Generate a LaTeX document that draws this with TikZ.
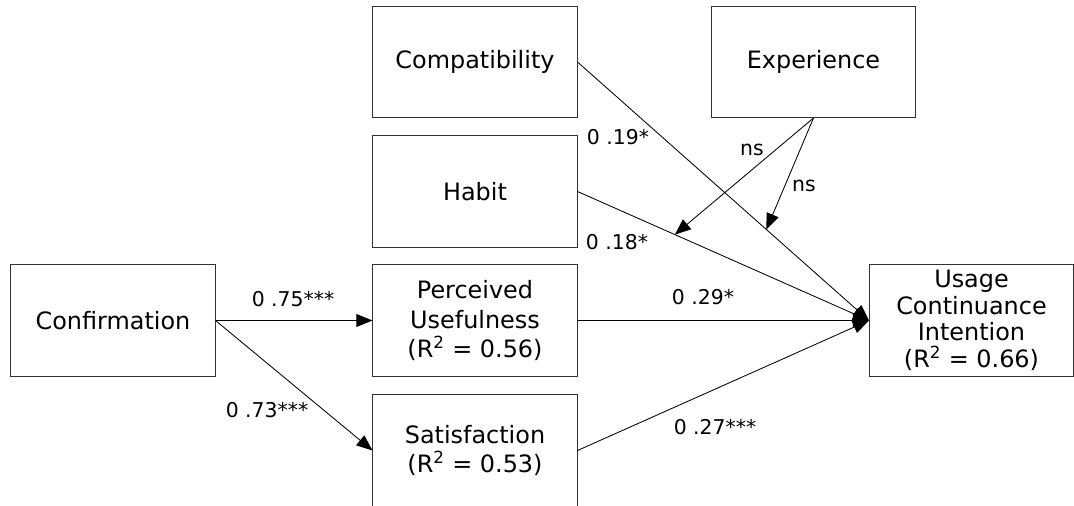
\documentclass[tikz,border=0pt]{standalone}
\usepackage{fontspec}
\setmainfont{DejaVu Sans}
\usetikzlibrary{arrows.meta}

\begin{document}
\begin{tikzpicture}[x=0.025cm, y=-0.025cm,
    box/.style={draw=black!80, line width=0.7pt, minimum width=5.1cm, minimum height=2.775cm,
        inner sep=0pt, align=center, font=\fontsize{17}{21}\selectfont},
    lbl/.style={inner sep=0pt, font=\fontsize{14.5}{17}\selectfont},
    arr/.style={line width=0.6pt, -{Triangle[length=0.4cm, width=0.32cm]}}]
    \useasboundingbox (0,0) rectangle (1074,506);

    % Constructs
    \node[box] (conf) at (113,320.5) {Confirmation};
    \node[box] (compat) at (475,62) {Compatibility};
    \node[box] (habit) at (475,191.5) {Habit};
    \node[box] (pu) at (475,320.5) {Perceived\\Usefulness\\(R\textsuperscript{2} = 0.56)};
    \node[box] (sat) at (475,450.5) {Satisfaction\\(R\textsuperscript{2} = 0.53)};
    \node[box] (exper) at (813.5,62) {Experience};
    \node[box, font=\fontsize{17}{19}\selectfont] (uci) at (971.5,320.5) {Usage\\Continuance\\Intention\\(R\textsuperscript{2} = 0.66)};

    % Paths
    \draw[arr] (conf.east) -- (pu.west);
    \draw[arr] (conf.east) -- (sat.west);
    \draw[arr] (compat.east) -- (uci.west) coordinate[pos=0.648] (mc);
    \draw[arr] (habit.east) -- (uci.west) coordinate[pos=0.334] (mh);
    \draw[arr] (pu.east) -- (uci.west);
    \draw[arr] (sat.east) -- (uci.west);

    % Moderation by experience
    \draw[arr] (exper.south) -- (mh);
    \draw[arr] (exper.south) -- (mc);

    % Coefficients
    \node[lbl] (b75) at (293,299) {0 .75***};
    \node[lbl] (b73) at (267,410) {0 .73***};
    \node[lbl] (b19) at (618,137) {0 .19*};
    \node[lbl] (b18) at (617,242) {0 .18*};
    \node[lbl] (b29) at (703,297) {0 .29*};
    \node[lbl] (b27) at (715,427) {0 .27***};
    \node[lbl] (ns1) at (752,150) {ns};
    \node[lbl] (ns2) at (804,186) {ns};
\end{tikzpicture}
\end{document}
